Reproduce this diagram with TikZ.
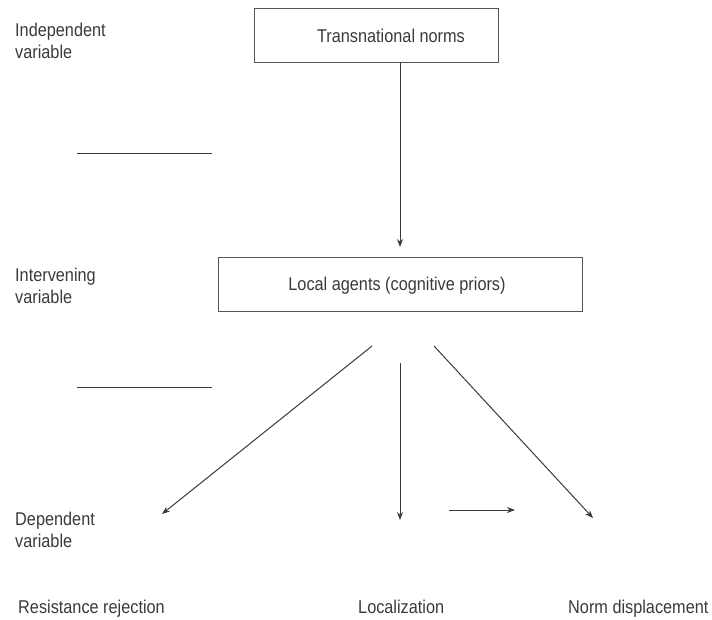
\documentclass[tikz,border=0pt]{standalone}
\usepackage{fontspec}
\setmainfont{Liberation Sans}[FakeStretch=0.88]
\usetikzlibrary{arrows.meta}
\definecolor{ink}{HTML}{3A3A3A}
\definecolor{frame}{HTML}{555555}
\begin{document}
\begin{tikzpicture}[x=1pt,y=-1pt,
  txt/.style={text=ink,font=\fontsize{18.5}{22}\selectfont,inner sep=0pt,anchor=base west},
  ctxt/.style={text=ink,font=\fontsize{18.5}{22}\selectfont,inner sep=0pt,anchor=base},
  box/.style={draw=frame,line width=1pt,inner sep=0pt},
  conn/.style={draw=ink,line width=1pt,-{Stealth[length=8pt,width=6pt]}},
  rule/.style={draw=ink,line width=1pt}]
\useasboundingbox (0,0) rectangle (712,619);
% left labels
\node[txt] (iv1) at (15,36) {Independent};
\node[txt] (iv2) at (15,58) {variable};
\node[txt] (mv1) at (15,281) {Intervening};
\node[txt] (mv2) at (15,303) {variable};
\node[txt] (dv1) at (15,525) {Dependent};
\node[txt] (dv2) at (15,547) {variable};
% separator lines
\coordinate (s1a) at (77,153); \coordinate (s1b) at (212,153);
\coordinate (s2a) at (77,387); \coordinate (s2b) at (212,387);
\draw[rule] (s1a) -- (s1b);
\draw[rule] (s2a) -- (s2b);
% boxes
\node[box,minimum width=244pt,minimum height=54pt] (tn) at (376,35) {};
\node[ctxt] (tnt) at (391,42) {Transnational norms};
\node[box,minimum width=364pt,minimum height=54pt] (la) at (400,284) {};
\node[ctxt] (lat) at (397,290) {Local agents (cognitive priors)};
% arrows
\coordinate (top1) at (400,62); \coordinate (top2) at (400,247);
\draw[conn] (top1) -- (top2);
\coordinate (l0) at (372,346); \coordinate (l1) at (162,514);
\coordinate (m0) at (400,363); \coordinate (m1) at (400,520);
\coordinate (r0) at (434,346); \coordinate (r1) at (593,518);
\coordinate (h0) at (449,510); \coordinate (h1) at (515,510);
\draw[conn] (l0) -- (l1);
\draw[conn] (m0) -- (m1);
\draw[conn] (r0) -- (r1);
\draw[conn] (h0) -- (h1);
% outcome labels
\node[txt] (o1) at (18,613) {Resistance rejection};
\node[txt] (o2) at (358,613) {Localization};
\node[txt] (o3) at (568,613) {Norm displacement};
\end{tikzpicture}
\end{document}
